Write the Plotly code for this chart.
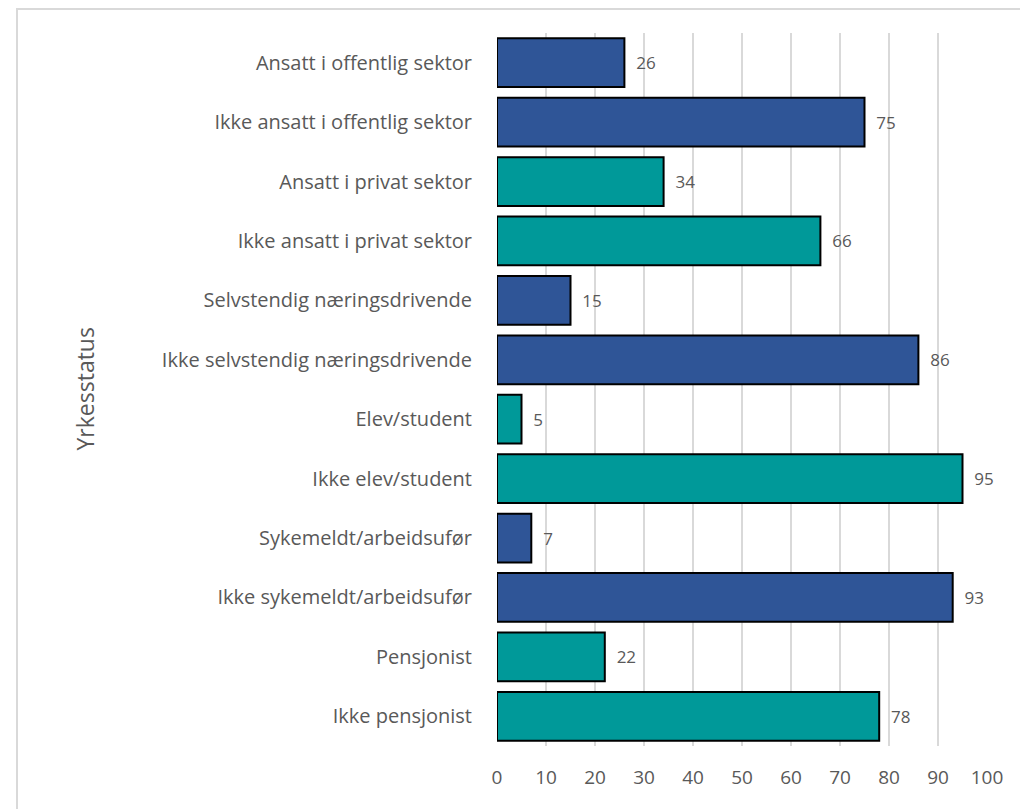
import plotly.graph_objects as go

# Data
categories = [
    "Ansatt i offentlig sektor",
    "Ikke ansatt i offentlig sektor",
    "Ansatt i privat sektor",
    "Ikke ansatt i privat sektor",
    "Selvstendig næringsdrivende",
    "Ikke selvstendig næringsdrivende",
    "Elev/student",
    "Ikke elev/student",
    "Sykemeldt/arbeidsufør",
    "Ikke sykemeldt/arbeidsufør",
    "Pensjonist",
    "Ikke pensjonist",
]
values = [26, 75, 34, 66, 15, 86, 5, 95, 7, 93, 22, 78]
groups = ["blue", "blue", "teal", "teal", "blue", "blue",
          "teal", "teal", "blue", "blue", "teal", "teal"]
x_ticks = [0, 10, 20, 30, 40, 50, 60, 70, 80, 90, 100]

COLORS = {"blue": "#2F5597", "teal": "#009999"}
FONT = "Open Sans, sans-serif"
GRAY = "#595959"

# page has an 8px body margin, so the figure is 8px smaller and margins shifted
W, H = 1020, 801
L, R, T, B = 489, 41, 25, 63
pw, ph = W - L - R, H - T - B

fig = go.Figure(go.Bar(
    x=values,
    y=categories,
    orientation="h",
    marker=dict(color=[COLORS[g] for g in groups],
                line=dict(color="black", width=2)),
    text=[f"  {v}" for v in values],
    textposition="outside",
    textfont=dict(family=FONT, size=17, color=GRAY),
    cliponaxis=False,
))

fig.update_xaxes(
    range=[0, 100], tickvals=x_ticks, showgrid=True,
    gridcolor="#D9D9D9", gridwidth=2, zeroline=False,
    tickfont=dict(family=FONT, size=19, color=GRAY),
    ticks="", ticklabelstandoff=18, fixedrange=True,
)
fig.update_yaxes(
    autorange="reversed", showgrid=False,
    tickfont=dict(family=FONT, size=20, color=GRAY),
    ticks="", ticklabelstandoff=24,
)

# outer chart border
fig.add_shape(
    type="rect", xref="paper", yref="paper",
    x0=(9 - L) / pw, x1=(1018 - L) / pw,
    y0=(H - B - 812) / ph, y1=(H - B - 1) / ph,
    line=dict(color="#D9D9D9", width=2), fillcolor="rgba(0,0,0,0)",
    layer="below",
)

fig.add_annotation(
    text="Yrkesstatus", xref="paper", yref="paper",
    x=(58 - L) / pw, y=0.5, textangle=-90, showarrow=False,
    font=dict(family=FONT, size=23, color=GRAY),
)

fig.update_layout(
    width=W, height=H,
    margin=dict(l=L, r=R, t=T, b=B, autoexpand=False),
    plot_bgcolor="white", paper_bgcolor="white",
    bargap=0.18, showlegend=False,
)

fig.write_html("out.html")
